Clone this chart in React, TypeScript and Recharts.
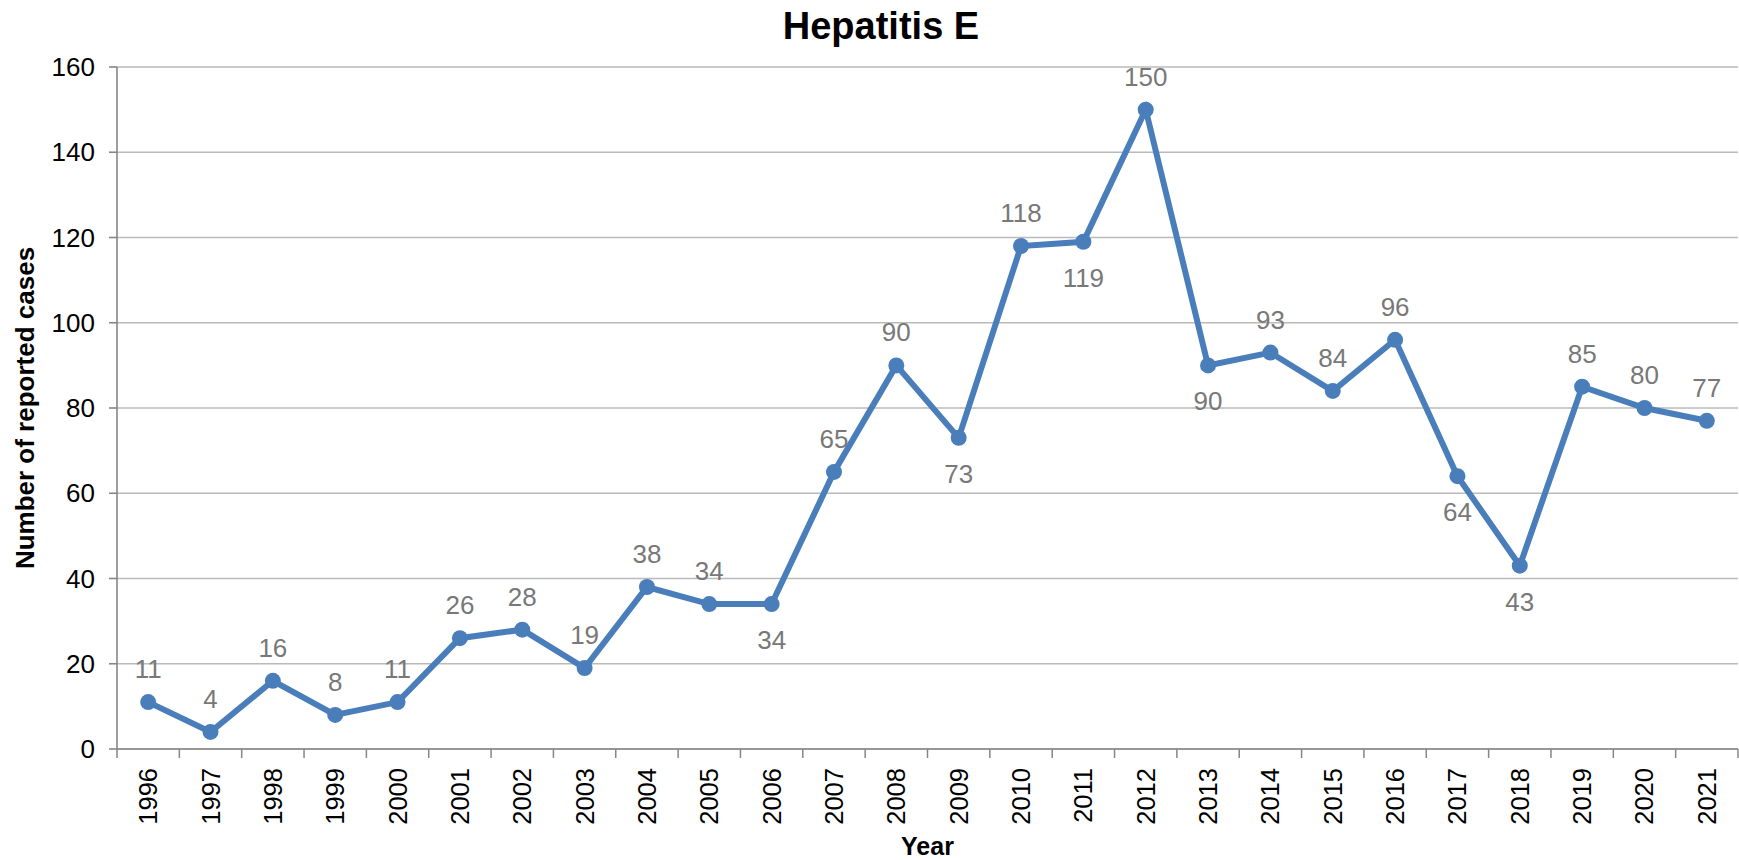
import React from 'react';
import { LineChart, Line, XAxis, YAxis, CartesianGrid, LabelList, Label } from 'recharts';

const years = ['1996','1997','1998','1999','2000','2001','2002','2003','2004','2005','2006','2007','2008','2009','2010','2011','2012','2013','2014','2015','2016','2017','2018','2019','2020','2021'];
const cases = [11, 4, 16, 8, 11, 26, 28, 19, 38, 34, 34, 65, 90, 73, 118, 119, 150, 90, 93, 84, 96, 64, 43, 85, 80, 77];
const yTicks = [0, 20, 40, 60, 80, 100, 120, 140, 160];
const labelsBelow = ['2006', '2009', '2011', '2013', '2017', '2018'];

const data = years.map((year, i) => ({ year, cases: cases[i] }));

const FONT = '"Liberation Sans", Arial, Helvetica, sans-serif';
const LINE_COLOR = '#4a7ebb';
const AXIS_COLOR = '#868686';

const XTick = (props: any) => {
  const { x, y, payload, index, visibleTicksCount } = props;
  const off = payload && typeof payload.offset === 'number' ? payload.offset : 0;
  const ty = y + 19;
  return (
    <g>
      <line x1={x - off} x2={x - off} y1={y} y2={y + 9} stroke={AXIS_COLOR} strokeWidth={1.5} />
      {index === visibleTicksCount - 1 && (
        <line x1={x + off} x2={x + off} y1={y} y2={y + 9} stroke={AXIS_COLOR} strokeWidth={1.5} />
      )}
      <text
        x={x}
        y={ty}
        transform={`rotate(-90, ${x}, ${ty})`}
        textAnchor="end"
        dominantBaseline="central"
        fill="#000"
        fontSize={25.5}
        fontFamily={FONT}
      >
        {payload.value}
      </text>
    </g>
  );
};

const YearLabel = (props: any) => {
  const vb = props.viewBox || { x: 117, y: 749, width: 1621, height: 111 };
  return (
    <text x={vb.x + vb.width / 2} y={vb.y + 106} textAnchor="middle" fontSize={25} fontWeight="bold" fontFamily={FONT} fill="#000">
      Year
    </text>
  );
};

const YLabel = (props: any) => {
  const vb = props.viewBox || { x: 0, y: 67, width: 117, height: 682 };
  const cx = vb.x + 25;
  const cy = vb.y + vb.height / 2;
  return (
    <text x={cx} y={cy} transform={`rotate(-90, ${cx}, ${cy})`} textAnchor="middle" dominantBaseline="central" fontSize={26} fontWeight="bold" fontFamily={FONT} fill="#000">
      Number of reported cases
    </text>
  );
};

const PointLabel = (props: any) => {
  const { x, y, value, index } = props;
  const below = labelsBelow.includes(years[index]);
  const ly = below ? y + 36 : y - 33;
  return (
    <text x={x} y={ly} textAnchor="middle" dominantBaseline="central" fontSize={26} fontFamily={FONT} fill="#787878">
      {value}
    </text>
  );
};

export default function App() {
  return (
    <div style={{ position: 'absolute', left: 0, top: 0, width: 1739, height: 860, background: '#fff' }}>
      <div
        style={{
          position: 'absolute',
          left: 0,
          top: 7,
          width: 1762,
          textAlign: 'center',
          fontFamily: FONT,
          fontWeight: 'bold',
          fontSize: 38,
          lineHeight: '38px',
          color: '#000',
        }}
      >
        Hepatitis E
      </div>
      <LineChart width={1739} height={860} data={data} margin={{ top: 67, right: 1, bottom: 0, left: 0 }}>
        <CartesianGrid vertical={false} stroke="#bababa" strokeWidth={1.6} />
        <XAxis
          dataKey="year"
          scale="band"
          height={111}
          interval={0}
          tickLine={false}
          tickSize={0}
          tickMargin={0}
          axisLine={{ stroke: AXIS_COLOR, strokeWidth: 1.6 }}
          tick={<XTick />}
        >
          <Label content={<YearLabel />} />
        </XAxis>
        <YAxis
          domain={[0, 160]}
          ticks={yTicks}
          width={117}
          interval={0}
          tickSize={8}
          tickMargin={14}
          axisLine={{ stroke: AXIS_COLOR, strokeWidth: 1.6 }}
          tickLine={{ stroke: AXIS_COLOR, strokeWidth: 1.6 }}
          tick={{ fill: '#000', fontSize: 26, fontFamily: FONT }}
        >
          <Label content={<YLabel />} />
        </YAxis>
        <Line
          type="linear"
          dataKey="cases"
          stroke={LINE_COLOR}
          strokeWidth={6}
          dot={{ r: 8, fill: LINE_COLOR, stroke: LINE_COLOR, strokeWidth: 0 }}
          activeDot={false}
          isAnimationActive={false}
        >
          <LabelList dataKey="cases" content={<PointLabel />} />
        </Line>
      </LineChart>
    </div>
  );
}
